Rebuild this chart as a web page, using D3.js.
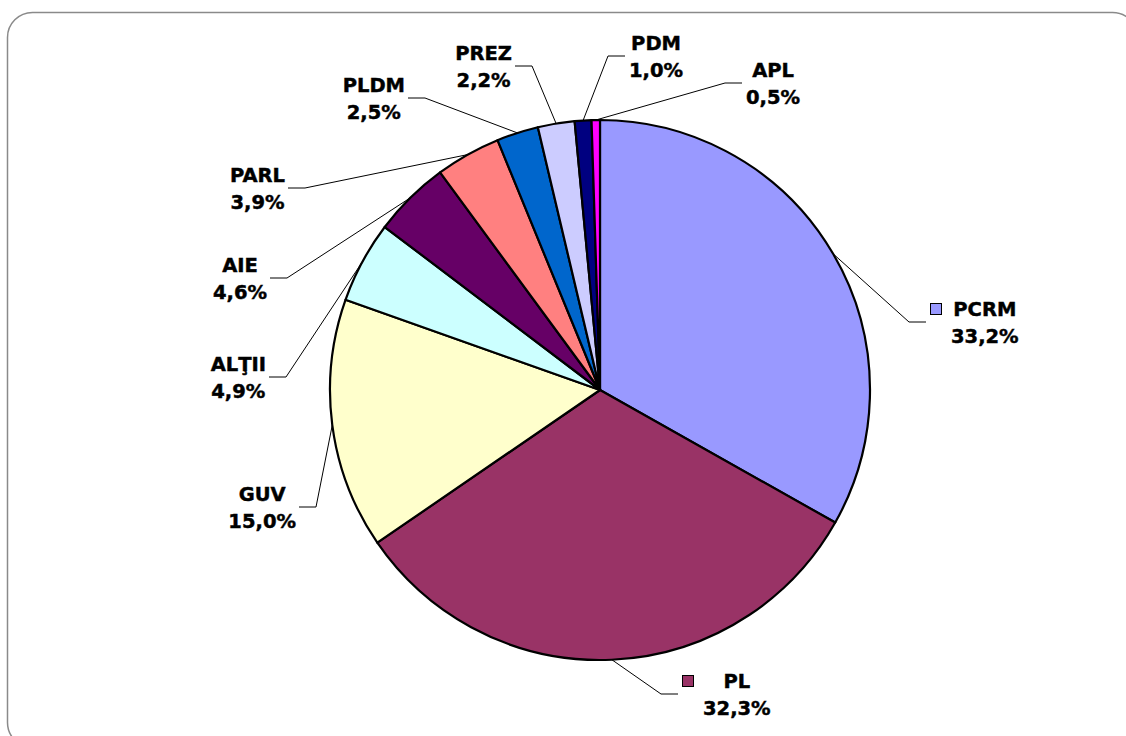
<!DOCTYPE html>
<html>
<head>
<meta charset="utf-8">
<script src="https://cdn.jsdelivr.net/npm/d3@7"></script>
<style>
  html, body { margin: 0; padding: 0; background: #fff; }
  svg { display: block; }
  text { font-family: "DejaVu Sans", Verdana, sans-serif; font-weight: bold; fill: #000; stroke: #000; stroke-width: 0.45px; }
</style>
</head>
<body>
<svg id="chart" width="1126" height="736"></svg>
<script>
// ---- data ----
const categories = ["PCRM", "PL", "GUV", "ALŢII", "AIE", "PARL", "PLDM", "PREZ", "PDM", "APL"];
const values = [33.2, 32.3, 15.0, 4.9, 4.6, 3.9, 2.5, 2.2, 1.0, 0.5];
const valueLabels = ["33,2%", "32,3%", "15,0%", "4,9%", "4,6%", "3,9%", "2,5%", "2,2%", "1,0%", "0,5%"];
const colors = ["#9999FF", "#993366", "#FFFFCC", "#CCFFFF", "#660066", "#FF8080", "#0066CC", "#CCCCFF", "#000080", "#FF00FF"];
const showKey = [true, true, false, false, false, false, false, false, false, false];

// ---- layout (label elbow offsets relative to pie centre, side of label) ----
const labelElbow = [[309, -68], [61, 304], [-284, 117], [-314, -13], [-313, -112],
                    [-295, -202], [-175, -292], [-68, -324], [8, -334], [125, -307]];
const labelSide = [1, 1, -1, -1, -1, -1, -1, -1, 1, 1];

const W = 1126, H = 736;
const cx = 600, cy = 390, R = 270;
const svg = d3.select("#chart");

// frame
svg.append("rect")
  .attr("x", 7.5).attr("y", 12.5)
  .attr("width", 1130).attr("height", 735)
  .attr("rx", 25).attr("ry", 25)
  .attr("fill", "#fff")
  .attr("stroke", "#8a8a8a").attr("stroke-width", 1.5);

const g = svg.append("g").attr("transform", `translate(${cx},${cy})`);

const pie = d3.pie().sort(null).value(d => d);
const arcs = pie(values);
const arc = d3.arc().innerRadius(0).outerRadius(R);

g.selectAll("path.slice")
  .data(arcs)
  .join("path")
  .attr("class", "slice")
  .attr("d", arc)
  .attr("fill", (d, i) => colors[i])
  .attr("stroke", "#000")
  .attr("stroke-width", 2.2)
  .attr("stroke-linejoin", "round");

const fs = 19.5;
const hSeg = 17;

arcs.forEach((d, i) => {
  const mid = (d.startAngle + d.endAngle) / 2;
  const px = R * Math.sin(mid), py = -R * Math.cos(mid);
  const [ex, ey] = labelElbow[i];
  const side = labelSide[i];
  const endX = ex + side * hSeg;

  g.append("path")
    .attr("d", d3.line()([[px, py], [ex, ey], [endX, ey]]))
    .attr("fill", "none")
    .attr("stroke", "#000")
    .attr("stroke-width", 1);

  const lg = g.append("g");
  const t1 = lg.append("text").attr("text-anchor", "middle")
    .attr("font-size", fs).attr("y", ey - 6).text(categories[i]);
  const t2 = lg.append("text").attr("text-anchor", "middle")
    .attr("font-size", fs).attr("y", ey + 21).text(valueLabels[i]);
  const w = Math.max(t1.node().getComputedTextLength(), t2.node().getComputedTextLength());

  let tx;
  if (showKey[i]) {
    const keyX = endX + 4;
    lg.append("rect")
      .attr("x", keyX + 0.5).attr("y", ey - 6 - 13 + 0.5)
      .attr("width", 11).attr("height", 11)
      .attr("fill", colors[i]).attr("stroke", "#000").attr("stroke-width", 1);
    tx = keyX + 12 + 9 + w / 2;
  } else if (side > 0) {
    tx = endX + 4 + w / 2;
  } else {
    tx = endX - 3 - w / 2;
  }
  t1.attr("x", tx);
  t2.attr("x", tx);
});
</script>
</body>
</html>
